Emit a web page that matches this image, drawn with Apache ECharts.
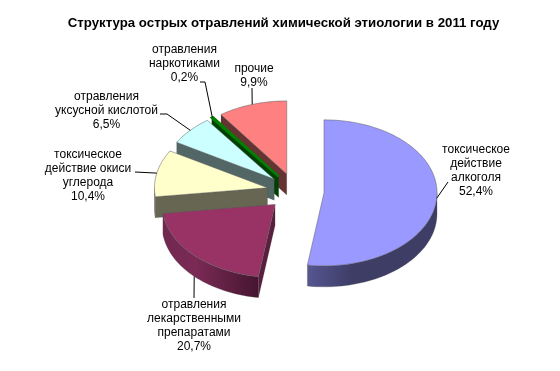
<!DOCTYPE html>
<html><head><meta charset="utf-8">
<style>html,body{margin:0;padding:0;background:#fff}#c{width:560px;height:371px}</style>
<script src="https://cdn.jsdelivr.net/npm/echarts@6/dist/echarts.min.js"></script>
</head><body><div id="c"></div>
<script>
const titleText = 'Структура острых отравлений химической этиологии в 2011 году';
const names = ['токсическое\nдействие\nалкоголя','отравления\nлекарственными\nпрепаратами','токсическое\nдействие окиси\nуглерода','отравления\nуксусной кислотой','отравления\nнаркотиками','прочие'];
const values = [52.4,20.7,10.4,6.5,0.2,9.9];
const percentLabels = ['52,4%','20,7%','10,4%','6,5%','0,2%','9,9%'];
const topColors = ['#9999FF','#993366','#FFFFCC','#CCFFFF','#008000','#FF8080'];
const wallColors = ['#3D3D66','#5A1F3E','#666652','#526666','#004000','#663333'];
const topStrokes = ['rgba(90,90,90,.7)','rgba(90,90,90,.7)','rgba(90,90,90,.7)','rgba(90,90,90,.7)','#008000','rgba(90,90,90,.7)'];
const topStrokeWidths = [.7,.7,.7,.7,2.4,.7];
const rimStops = [['#565692','#3D3D66','#3D3D66'],['#702850','#7A2A55','#451530'],['#666652','#666652','#666652'],['#526666','#526666','#526666'],['#004000','#004000','#004000'],['#663333','#663333','#663333']];
// back-to-front painting order (indices into the arrays above)
const drawOrder = [5,4,3,2,1,0];
// label block centre and leader-line bends, in pixels
const labelCentres = [[476,170.5],[194,326],[88,175.5],[106.5,110.5],[184.5,63.5],[254,75.5]];
const leaderBends = [[[448,182]],[[194,298]],[[135,172]],[[167,114],[160,114]],[[205,82],[200,82]],[[252,88]]];
const leaderOnRim = [false,true,false,false,false,false];

const CX = 295.5, CY = 191.5, RX = 113, RY = 73, DEPTH = 21, EXPLODE = 0.253;
const total = values.reduce((a,b)=>a+b,0);
const rad = d => d*Math.PI/180;
const starts = []; values.reduce((acc,v,i)=>{starts[i]=acc;return acc+v/total*360;},0);

function renderSlice(params, api){
  const i = api.value(0), v = api.value(1);
  const a0 = starts[i], a1 = a0 + v/total*360, mid = (a0+a1)/2;
  const ax = CX + EXPLODE*RX*Math.sin(rad(mid));
  const ay = CY - EXPLODE*RY*Math.cos(rad(mid));
  const P = (a,d=0)=>[ax+RX*Math.sin(rad(a)), ay-RY*Math.cos(rad(a))+d];
  const arc = (s,e,d=0)=>{const n=Math.max(2,Math.ceil((e-s)/2)),o=[];for(let k=0;k<=n;k++)o.push(P(s+(e-s)*k/n,d));return o;};
  const kids = [];
  const wall = a => kids.push({type:'polygon',shape:{points:[[ax,ay],P(a),P(a,DEPTH),[ax,ay+DEPTH]]},style:{fill:wallColors[i],stroke:'rgba(70,70,70,.4)',lineWidth:.4}});
  if (Math.sin(rad(a1))>0.01) wall(a1);
  if (Math.sin(rad(a0))<-0.01) wall(a0);
  const rs = Math.max(a0,90), re = Math.min(a1,270);
  if (re>rs){
    const top = arc(rs,re), bot = arc(rs,re,DEPTH).reverse();
    const st = rimStops[i];
    kids.push({type:'polygon',shape:{points:top.concat(bot)},style:{
      fill:new echarts.graphic.LinearGradient(0,0,1,0,[{offset:0,color:st[0]},{offset:.35,color:st[1]},{offset:1,color:st[2]}]),
      stroke:'rgba(70,70,70,.5)',lineWidth:.5}});
  }
  kids.push({type:'polygon',shape:{points:[[ax,ay]].concat(arc(a0,a1))},style:{fill:topColors[i],stroke:topStrokes[i],lineWidth:topStrokeWidths[i]}});
  // leader line from the slice's rim to its label
  const pts = [P(mid, leaderOnRim[i]?DEPTH:0)].concat(leaderBends[i]);
  kids.push({type:'polyline',shape:{points:pts},z2:10,style:{fill:null,stroke:'#000',lineWidth:1}});
  kids.push({type:'text',z2:10,style:{text:names[i]+'\n'+percentLabels[i],x:labelCentres[i][0],y:labelCentres[i][1],align:'center',verticalAlign:'middle',
    font:'12px "Liberation Sans", Arial, sans-serif',lineHeight:14,fill:'#000'}});
  return {type:'group',children:kids};
}

const chart = echarts.init(document.getElementById('c'),null,{renderer:'canvas'});
chart.setOption({
  animation:false,
  backgroundColor:'#fff',
  title:{text:titleText,left:278.5,top:11.5,textAlign:'center',textStyle:{fontFamily:'"Liberation Sans", Arial, sans-serif',fontWeight:'bold',fontSize:13.25,color:'#000'}},
  series:[{type:'custom',coordinateSystem:'none',renderItem:renderSlice,silent:true,
    data:drawOrder.map(i=>[i,values[i]])}]
});
</script></body></html>
